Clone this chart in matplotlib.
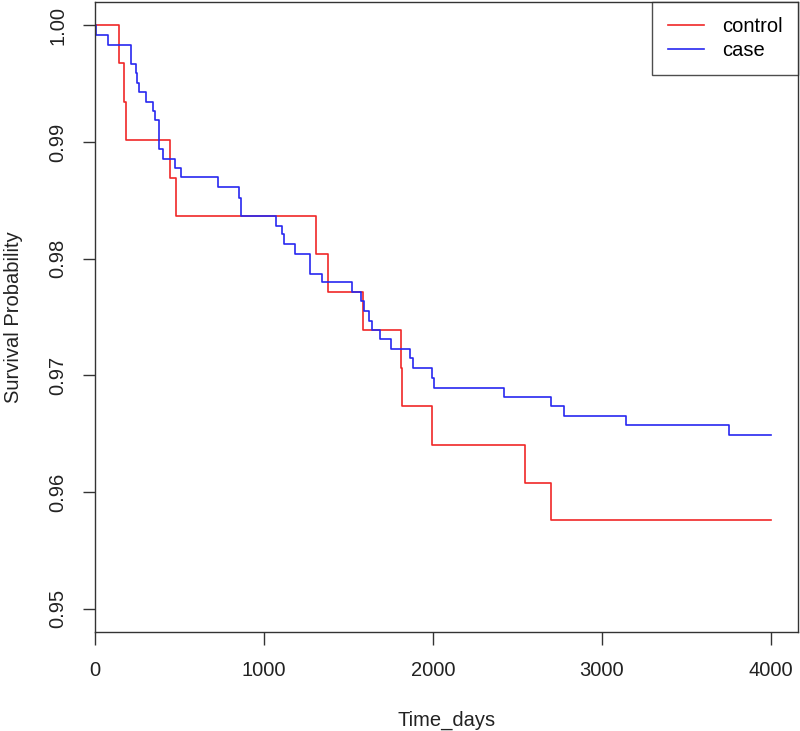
import numpy as np
import matplotlib
matplotlib.use("Agg")
import matplotlib.pyplot as plt

plt.rcParams['font.family'] = ['Liberation Sans', 'DejaVu Sans']

# Kaplan-Meier step points (time in days, survival after the step)
control_t = [0, 144, 172, 184, 445, 481, 1306, 1377, 1586, 1810, 1816, 1992, 2546, 2700, 4000]
control_s = [1.0, 0.99677, 0.99343, 0.99021, 0.98693, 0.98365, 0.98040, 0.97715, 0.97386,
             0.97066, 0.96738, 0.96404, 0.96079, 0.95759, 0.95759]

case_t = [0, 6, 79, 212, 243, 251, 263, 303, 346, 358, 376, 402, 475, 508, 728, 851, 861, 865,
          1074, 1108, 1118, 1182, 1270, 1341, 1522, 1573, 1589, 1619, 1642, 1688, 1751, 1866,
          1880, 1996, 2008, 2423, 2700, 2776, 3144, 3749, 4000]
case_s = [1.0, 0.99920, 0.99831, 0.99672, 0.99592, 0.99506, 0.99426, 0.99343, 0.99264, 0.99187,
          0.98936, 0.98855, 0.98773, 0.98699, 0.98613, 0.98521, 0.98435, 0.98365,
          0.98279, 0.98208, 0.98122, 0.98040, 0.97871, 0.97800, 0.97715, 0.97637, 0.97551,
          0.97466, 0.97386, 0.97309, 0.97229, 0.97146, 0.97061, 0.96980, 0.96895, 0.96818,
          0.96738, 0.96655, 0.96573, 0.96490, 0.96490]

x_ticks = [0, 1000, 2000, 3000, 4000]
y_ticks = [0.95, 0.96, 0.97, 0.98, 0.99, 1.00]

fig = plt.figure(figsize=(8, 7.31), dpi=100)
ax = fig.add_axes([0.11875, 0.1354, 0.87875, 0.8619])

ax.step(control_t, control_s, where='post', color='#f02828', lw=1.2, label='control')
ax.step(case_t, case_s, where='post', color='#2828f0', lw=1.2, label='case')

ax.set_xlim(0, 4160)
ax.set_ylim(0.948, 1.002)
ax.set_xticks(x_ticks)
ax.set_xticklabels([str(v) for v in x_ticks])
ax.set_yticks(y_ticks)
ax.set_yticklabels(['%.2f' % v for v in y_ticks], rotation=90, va='center')

for sp in ax.spines.values():
    sp.set_color('#333333')
    sp.set_linewidth(1.0)
ax.tick_params(direction='out', length=9, width=1.0, color='#333333',
               labelsize=14.5, labelcolor='#222222')
ax.tick_params(axis='x', pad=12)
ax.tick_params(axis='y', pad=11)

ax.set_xlabel('Time_days', fontsize=14.5, color='#222222', labelpad=22)
ax.set_ylabel('Survival Probability', fontsize=14.5, color='#222222', labelpad=18)

leg = ax.legend(loc='upper right', fontsize=14.5, frameon=True, fancybox=False,
                borderaxespad=0, handlelength=1.8, handletextpad=0.9,
                borderpad=0.76, labelspacing=0.22)
leg.get_frame().set_edgecolor('#222222')
leg.get_frame().set_linewidth(1.0)

plt.savefig('out.png', dpi=100)
